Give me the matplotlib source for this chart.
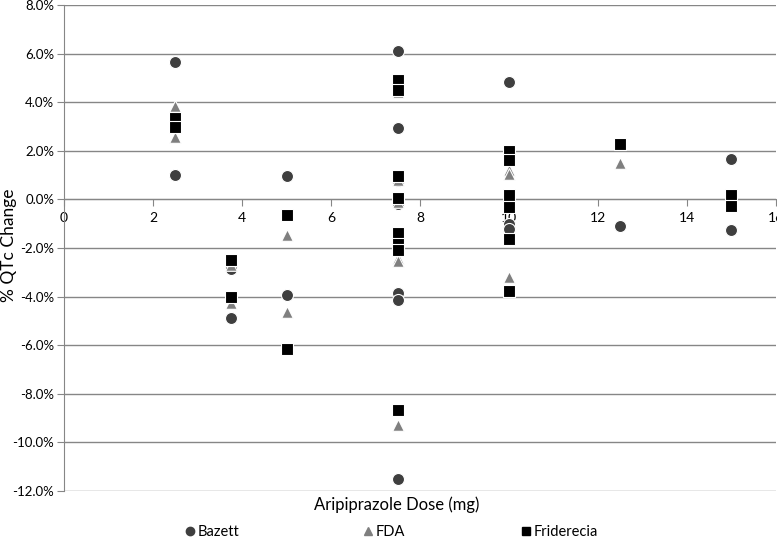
import numpy as np
import matplotlib.pyplot as plt
from matplotlib.lines import Line2D
from matplotlib.ticker import FuncFormatter, MultipleLocator

plt.rcParams['font.family'] = ['Lato', 'DejaVu Sans']

# dose (mg) and % QTc change
bazett_dose = [2.5, 2.5, 3.75, 3.75, 5, 5,
               7.5, 7.5, 7.5, 7.5, 7.5, 7.5, 7.5,
               10, 10, 10, 12.5, 15, 15]
bazett_qtc = [5.65, 1.0, -2.85, -4.9, 0.95, -3.95,
              6.1, 2.95, 0.75, -0.2, -3.85, -4.15, -11.5,
              4.85, -1.0, -1.2, -1.1, 1.65, -1.28]

fda_dose = [2.5, 2.5, 3.75, 3.75, 5, 5,
            7.5, 7.5, 7.5, 7.5, 7.5, 7.5,
            10, 10, 10, 12.5, 15]
fda_qtc = [3.85, 2.55, -2.7, -4.25, -1.45, -4.65,
           4.4, 0.8, -0.1, -2.4, -2.55, -9.3,
           1.22, 1.05, -3.2, 1.5, -0.05]

frid_dose = [2.5, 2.5, 3.75, 3.75, 5, 5,
             7.5, 7.5, 7.5, 7.5, 7.5, 7.5, 7.5, 7.5,
             10, 10, 10, 10, 10, 10, 12.5, 15, 15]
frid_qtc = [3.35, 3.0, -2.5, -4.0, -0.65, -6.15,
            4.9, 4.5, 0.95, 0.05, -1.4, -1.85, -2.1, -8.65,
            2.0, 1.62, 0.18, -0.32, -1.62, -3.78, 2.3, 0.2, -0.28]

grey = '#868686'

fig = plt.figure(figsize=(7.77, 5.39), dpi=100)
ax = fig.add_axes([0.0824, 0.0891, 0.9163, 0.9016])

ax.scatter(bazett_dose, bazett_qtc, s=75, marker='o', color='#3f3f3f',
           edgecolors='white', linewidths=0.8, zorder=3)
ax.scatter(fda_dose, fda_qtc, s=70, marker='^', color='#7f7f7f',
           edgecolors='white', linewidths=0.8, zorder=4)
ax.scatter(frid_dose, frid_qtc, s=75, marker='s', color='black',
           edgecolors='white', linewidths=0.8, zorder=5)

ax.set_xlim(0, 16)
ax.set_ylim(-12, 8)
ax.xaxis.set_major_locator(MultipleLocator(2))
ax.yaxis.set_major_locator(MultipleLocator(2))
ax.yaxis.set_major_formatter(FuncFormatter(lambda v, p: '%.1f%%' % v))

ax.grid(axis='y', color=grey, linewidth=1.0)
ax.set_axisbelow(True)
for s in ['top', 'right']:
    ax.spines[s].set_visible(False)
ax.spines['left'].set_color(grey)
ax.spines['bottom'].set_color(grey)
ax.spines['bottom'].set_position(('data', 0))
ax.tick_params(axis='y', length=5, color=grey, direction='out', labelsize=9.5, pad=2)
ax.tick_params(axis='x', length=5, color=grey, direction='out', labelsize=10, pad=4)

fig.text(0.012, 0.545, '% QTc Change', rotation=90, ha='center', va='center',
         fontsize=12.5)
fig.text(0.51, 0.063, 'Aripiprazole Dose (mg)', ha='center', va='center', fontsize=12)

# legend entries along the bottom
entries = [('Bazett', 'o', '#3f3f3f', 0.237),
           ('FDA', '^', '#7f7f7f', 0.466),
           ('Friderecia', 's', 'black', 0.669)]
for name, mk, col, xpos in entries:
    h = Line2D([], [], linestyle='none', marker=mk, color=col, markersize=6)
    fig.legend([h], [name], loc='center left', bbox_to_anchor=(xpos, 0.013),
               frameon=False, fontsize=10.5, handletextpad=0.15, handlelength=0.8,
               borderpad=0, borderaxespad=0)

fig.savefig('out.png', dpi=100)
